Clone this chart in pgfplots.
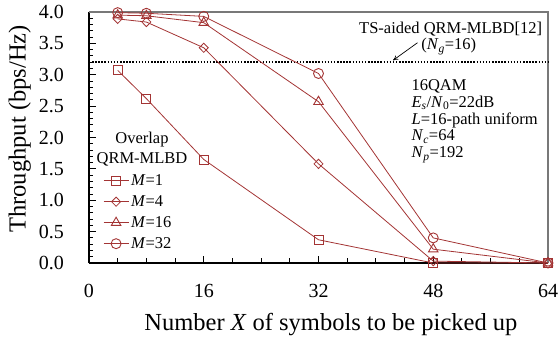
\documentclass[border=0pt]{standalone}
\usepackage{pgfplots}
\pgfplotsset{compat=1.18}
\usetikzlibrary{arrows.meta}
\usepackage{fontspec}
\setmainfont{Liberation Serif}
\definecolor{dred}{RGB}{163,52,52}
\definecolor{fgray}{RGB}{120,120,120}
\begin{document}
\begin{tikzpicture}
\begin{axis}[name=ax,
  scale only axis, width=459pt, height=251pt,
  xmin=0, xmax=64, ymin=0, ymax=4,
  clip=false,
  axis x line*=bottom, axis y line*=left,
  x axis line style={-, line width=1.3pt},
  y axis line style={-, line width=1.3pt},
  xtick={0,16,32,48,64}, minor x tick num=3,
  ytick={0,0.5,...,4}, minor y tick num=4,
  tick align=inside,
  major tick length=7pt, minor tick length=4.5pt,
  tick style={black, line width=0.9pt},
  /pgf/number format/assume math mode=true,
  ticklabel style={font=\fontsize{20}{24}\selectfont, inner sep=0pt},
  yticklabel style={/pgf/number format/.cd, fixed, fixed zerofill, precision=1},
  yticklabel shift=25pt, xticklabel shift=21pt,
  xlabel={Number \textit{X} of symbols to be picked up},
  ylabel={Throughput (bps/Hz)},
  label style={font=\fontsize{24.5}{28}\selectfont},
  xlabel style={at={(axis description cs:0.527,-0.267)}, anchor=base},
  ylabel style={at={(axis description cs:-0.1383,0.534)}, anchor=base},
  every axis plot/.append style={color=dred, line width=0.8pt,
     mark options={fill=white, solid, line width=0.9pt}},
  legend style={at={(rel axis cs:0.0305,0.3586)}, anchor=north west,
     draw=none, fill=none, inner sep=0pt, row sep=6pt, column sep=2pt,
     font=\fontsize{16.5}{19}\selectfont,
     nodes={inner sep=0pt, text height=12pt, text depth=3pt}},
  legend cell align=left,
  legend image code/.code={\draw[mark repeat=2, mark phase=2] plot coordinates {(0pt,0pt) (12.5pt,0pt) (25pt,0pt)};},
]
\draw[fgray, line width=1.1pt] (rel axis cs:0,1) -- (rel axis cs:1,1) -- (rel axis cs:1,0);
\addplot[forget plot, black, line width=1.5pt, dash pattern=on 1.5pt off 1.6pt] coordinates {(0,3.2) (64,3.2)};
\addplot[mark=square, mark size=4.5pt] coordinates {(4,3.07) (8,2.62) (16,1.65) (32,0.37) (48,0.0) (64,0)};
\addlegendentry{\textit{M}=1}
\addplot[mark=diamond, mark size=4.6pt, mark options={xscale=1.3}] coordinates {(4,3.89) (8,3.84) (16,3.43) (32,1.58) (48,0.03) (64,0)};
\addlegendentry{\textit{M}=4}
\addplot[mark=triangle, mark size=5.5pt] coordinates {(4,3.95) (8,3.94) (16,3.83) (32,2.57) (48,0.22) (64,0)};
\addlegendentry{\textit{M}=16}
\addplot[mark=o, mark size=5pt] coordinates {(4,3.99) (8,3.98) (16,3.93) (32,3.02) (48,0.40) (64,0)};
\addlegendentry{\textit{M}=32}
\node[anchor=base, font=\fontsize{16.5}{19}\selectfont, inner sep=0pt] at (axis cs:7.39,1.907) {Overlap};
\node[anchor=base, font=\fontsize{16.5}{19}\selectfont, inner sep=0pt] at (axis cs:7.39,1.589) {QRM-MLBD};
\node[anchor=base east, font=\fontsize{16.5}{19}\selectfont, inner sep=0pt] at (axis cs:63.2,3.66) {TS-aided QRM-MLBD[12]};
\node[anchor=base west, font=\fontsize{16.5}{19}\selectfont, inner sep=0pt] at (axis cs:46.3,3.40) {(\textit{N}\textsubscript{\textit{g}}=16)};
\draw[black, line width=0.7pt, -{To[length=5pt,width=5pt]}] (axis cs:45.8,3.51) -- (axis cs:42.4,3.23);
\node[anchor=base west, font=\fontsize{16.5}{19}\selectfont, inner sep=0pt] at (axis cs:44.95,2.746) {16QAM};
\node[anchor=base west, font=\fontsize{16.5}{19}\selectfont, inner sep=0pt] at (axis cs:44.95,2.480) {\textit{E}\textsubscript{\textit{s}}/\textit{N}\textsubscript{0}=22dB};
\node[anchor=base west, font=\fontsize{16.5}{19}\selectfont, inner sep=0pt] at (axis cs:44.95,2.214) {\textit{L}=16-path uniform};
\node[anchor=base west, font=\fontsize{16.5}{19}\selectfont, inner sep=0pt] at (axis cs:44.95,1.948) {\textit{N}\textsubscript{\textit{c}}=64};
\node[anchor=base west, font=\fontsize{16.5}{19}\selectfont, inner sep=0pt] at (axis cs:44.95,1.682) {\textit{N}\textsubscript{\textit{p}}=192};
\end{axis}
\pgfresetboundingbox
\path ([shift={(-89pt,-76pt)}]ax.south west) rectangle ([shift={(10pt,12pt)}]ax.north east);
\end{tikzpicture}
\end{document}
